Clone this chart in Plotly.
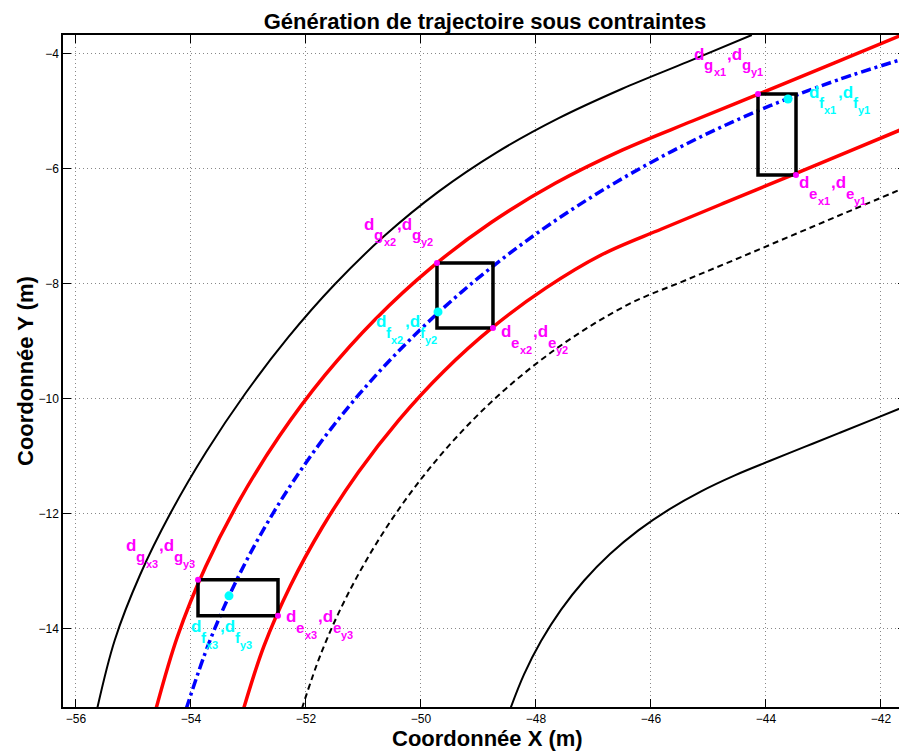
import plotly.graph_objects as go

# ---------------- data ----------------
# outer road edge, left (solid black)
edge_left_x = [-55.633, -55.325, -54.887, -54.351, -53.737, -53.055, -52.311, -51.503,
               -50.630, -49.689, -48.681, -47.613, -46.500, -45.365, -44.247]
edge_left_y = [-15.395, -14.194, -13.064, -11.978, -10.925, -9.907, -8.931, -8.011,
               -7.160, -6.391, -5.712, -5.121, -4.605, -4.137, -3.670]

# corridor upper bound (red)
red_up_x = [-54.610, -54.235, -53.746, -53.152, -52.459, -51.670, -50.790, -49.825,
            -48.780, -47.666, -46.493, -45.279, -44.045, -42.819, -41.637]
red_up_y = [-15.398, -14.133, -12.921, -11.757, -10.642, -9.588, -8.609, -7.720,
            -6.932, -6.250, -5.668, -5.166, -4.665, -4.160, -3.670]

# reference trajectory (blue dash-dot)
traj_x = [-54.084, -53.673, -53.161, -52.553, -51.856, -51.075, -50.219, -49.296,
          -48.312, -47.277, -46.197, -45.078, -43.928, -42.751, -41.549]
traj_y = [-15.396, -14.210, -13.060, -11.956, -10.907, -9.919, -8.997, -8.143,
          -7.358, -6.642, -5.995, -5.414, -4.900, -4.451, -4.067]

# corridor lower bound (red)
red_lo_x = [-53.084, -52.730, -52.271, -51.721, -51.090, -50.382, -49.602, -48.750,
            -47.831, -46.850, -45.816, -44.744, -43.655, -42.578, -41.552]
red_lo_y = [-15.387, -14.298, -13.251, -12.242, -11.276, -10.364, -9.518, -8.752,
            -8.074, -7.489, -7.045, -6.600, -6.150, -5.705, -5.275]

# lane middle (black dashed)
mid_x = [-52.072, -51.731, -51.305, -50.801, -50.222, -49.571, -48.853, -48.071,
         -47.231, -46.340, -45.408, -44.445, -43.468, -42.495, -41.549]
mid_y = [-15.390, -14.409, -13.463, -12.555, -11.690, -10.877, -10.126, -9.446,
         -8.844, -8.330, -7.940, -7.538, -7.123, -6.711, -6.310]

# outer road edge, right (solid black)
edge_right_x = [-48.448, -48.208, -47.912, -47.563, -47.162, -46.713, -46.220, -45.690,
                -45.128, -44.542, -43.939, -43.329, -42.721, -42.126, -41.556]
edge_right_y = [-15.395, -14.794, -14.214, -13.666, -13.160, -12.700, -12.288, -11.926,
                -11.608, -11.330, -11.081, -10.835, -10.592, -10.352, -10.120]

# constraint boxes
box_x0 = [-44.139, -49.722, -53.878]
box_x1 = [-43.478, -48.748, -52.487]
box_ytop = [-4.696, -7.635, -13.148]
box_ybot = [-6.104, -8.765, -13.774]

# target points d_f
pf_x = [-43.617, -49.704, -53.339]
pf_y = [-4.783, -8.487, -13.426]

# label anchors (first "d" of each label)
lab_g_x = [-45.270, -51.009, -55.148]
lab_g_y = [-4.104, -7.061, -12.661]
lab_f_x = [-43.270, -50.800, -54.017]
lab_f_y = [-4.765, -8.765, -14.070]
lab_e_x = [-43.443, -48.626, -52.365]
lab_e_y = [-6.339, -8.939, -13.896]

x_ticks = [-56, -54, -52, -50, -48, -46, -44, -42]
y_ticks = [-4, -6, -8, -10, -12, -14]

FONT = "Liberation Sans, Arial, Helvetica, sans-serif"
MAG = "#FF00FF"
CYA = "#00FFFF"

fig = go.Figure()

def curve(x, y, color, width, dash="solid"):
    fig.add_trace(go.Scatter(x=x, y=y, mode="lines", showlegend=False, hoverinfo="skip",
                             line=dict(color=color, width=width, dash=dash,
                                       shape="spline", smoothing=1.0)))

curve(edge_left_x, edge_left_y, "black", 2)
curve(edge_right_x, edge_right_y, "black", 2)
curve(mid_x, mid_y, "black", 2, "6px,4px")
curve(red_up_x, red_up_y, "#FF0000", 3.5)
curve(red_lo_x, red_lo_y, "#FF0000", 3.5)
curve(traj_x, traj_y, "#0000FF", 3.5, "10px,4px,3px,4px")

for i in range(3):
    fig.add_trace(go.Scatter(
        x=[box_x0[i], box_x1[i], box_x1[i], box_x0[i], box_x0[i]],
        y=[box_ytop[i], box_ytop[i], box_ybot[i], box_ybot[i], box_ytop[i]],
        mode="lines", showlegend=False, hoverinfo="skip",
        line=dict(color="black", width=3.5)))

# magenta corner points (d_g top-left, d_e bottom-right)
fig.add_trace(go.Scatter(x=box_x0 + box_x1, y=box_ytop + box_ybot, mode="markers",
                         showlegend=False, hoverinfo="skip",
                         marker=dict(color=MAG, size=6)))
fig.add_trace(go.Scatter(x=pf_x, y=pf_y, mode="markers", showlegend=False, hoverinfo="skip",
                         marker=dict(color=CYA, size=9)))

W = {'d': 0.611, 'g': 0.611, 'e': 0.556, 'f': 0.333, ',': 0.278, 'x': 0.556,
     'y': 0.556, '1': 0.556, '2': 0.556, '3': 0.556}

def tw(s, size):
    return sum(W[c] for c in s) * size

def add_label(x, y, letter, k, color):
    pieces = [("d", 17, 0), (letter, 15, 10), ("x%d" % k, 11, 16),
              (",d", 17, 0), (letter, 15, 10), ("y%d" % k, 11, 16)]
    dx = 0.0
    for i, (txt, size, dy) in enumerate(pieces):
        fig.add_annotation(x=x, y=y, xref="x", yref="y", text=txt, showarrow=False,
                           xanchor="left", yanchor="middle",
                           xshift=dx - 1, yshift=0.347 * size - dy,
                           font=dict(family=FONT, size=size, color=color, weight="bold"))
        dx += tw(txt, size) + (1 if i == 2 else 0)

for i in range(3):
    add_label(lab_g_x[i], lab_g_y[i], "g", i + 1, MAG)
    add_label(lab_f_x[i], lab_f_y[i], "f", i + 1, CYA)
    add_label(lab_e_x[i], lab_e_y[i], "e", i + 1, MAG)

# axis titles
fig.add_annotation(x=0.503, y=0, xref="paper", yref="paper", text="<b>Coordonnée X (m)</b>",
                   showarrow=False, xanchor="center", yanchor="middle", yshift=-31,
                   font=dict(family=FONT, size=22, color="black"))
fig.add_annotation(x=0, y=0.5, xref="paper", yref="paper", text="<b>Coordonnée Y (m)</b>",
                   showarrow=False, xanchor="center", yanchor="middle", xshift=-38,
                   textangle=-90, font=dict(family=FONT, size=22, color="black"))

axis_common = dict(showline=True, linecolor="black", linewidth=1.5, mirror="ticks",
                   ticks="inside", ticklen=8, tickwidth=1, tickcolor="black",
                   showgrid=True, gridcolor="#888888", gridwidth=1, griddash="1px,3px",
                   zeroline=False, tickfont=dict(family=FONT, size=12, color="black"))

# page body has an 8px margin, so the figure is drawn 8px smaller and offset
fig.update_layout(
    width=899, height=748,
    margin=dict(l=55, r=1, t=27, b=49, autoexpand=False),
    plot_bgcolor="white", paper_bgcolor="white",
    title=dict(text="<b>Génération de trajectoire sous contraintes</b>",
               x=0.5306, xanchor="center", y=0.9826, yref="container", yanchor="middle",
               font=dict(family=FONT, size=22, color="black")),
    xaxis=dict(range=[-56.226, -41.565], tickvals=x_ticks, **axis_common),
    yaxis=dict(range=[-15.36, -3.67], tickvals=y_ticks, **axis_common),
    showlegend=False,
)

fig.write_html("out.html")
